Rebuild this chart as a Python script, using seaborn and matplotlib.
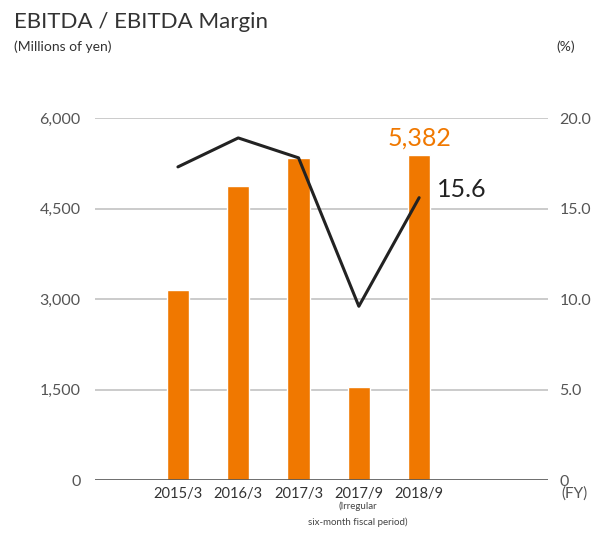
import numpy as np
import pandas as pd
import matplotlib
matplotlib.use('Agg')
import matplotlib.pyplot as plt
import seaborn as sns

# dane
periods = ['2015/3', '2016/3', '2017/3', '2017/9', '2018/9']
ebitda = [3150, 4870, 5330, 1540, 5382]
margin = [17.3, 18.9, 17.8, 9.6, 15.6]
left_ticks = [0, 1500, 3000, 4500, 6000]
left_labels = ['0', '1,500', '3,000', '4,500', '6,000']
right_labels = ['0', '5.0', '10.0', '15.0', '20.0']

sns.set_theme(style='white')
plt.rcParams['font.family'] = ['Lato', 'DejaVu Sans']

orange = '#f07800'
grey_txt = '#555555'

df = pd.DataFrame({'period': periods, 'ebitda': ebitda, 'margin': margin})

fig = plt.figure(figsize=(5.92, 5.34), dpi=100)
ax = fig.add_axes([0.160, 0.101, 0.766, 0.678])

sns.barplot(data=df, x='period', y='ebitda', color=orange, width=0.37,
            saturation=1, ax=ax, zorder=3)
ax.set_xlim(-1.38, 6.14)
ax.set_ylim(0, 6000)

for y in left_ticks[1:]:
    ax.axhline(y, color='#bdbdbd', lw=1.1, zorder=1)
ax.axhline(0, color='#555555', lw=1.2, zorder=4)

for s in ax.spines.values():
    s.set_visible(False)
ax.set_yticks(left_ticks)
ax.set_yticklabels(left_labels)
ax.tick_params(axis='y', length=0, pad=10, labelsize=11.5, labelcolor=grey_txt)
ax.tick_params(axis='x', length=0, pad=5, labelsize=10.5, labelcolor='#333333')
ax.set_xlabel('')
ax.set_ylabel('')

ax2 = ax.twinx()
sns.lineplot(x=np.arange(len(periods)), y=margin, color='#222222', lw=2.2,
             ax=ax2, zorder=5)
ax2.set_ylim(0, 20)
ax2.set_xlim(-1.38, 6.14)
for s in ax2.spines.values():
    s.set_visible(False)
ax2.set_yticks([0, 5, 10, 15, 20])
ax2.set_yticklabels(right_labels)
ax2.tick_params(axis='y', length=0, pad=8, labelsize=11.5, labelcolor=grey_txt)
ax2.set_ylabel('')
for l in ax2.lines:
    l.set_clip_on(False)

# etykiety wartości
ax.text(4, ebitda[-1] + 100, f'{ebitda[-1]:,}', color=orange, fontsize=18,
        ha='center', va='bottom')
ax2.text(4.3, margin[-1] - 0.2, f'{margin[-1]}', color='#222222', fontsize=18,
         ha='left', va='bottom')

fig.text(0.024, 0.958, 'EBITDA / EBITDA Margin', fontsize=16, color='#333333',
         va='center')
fig.text(0.024, 0.912, '(Millions of yen)', fontsize=10, color='#333333',
         va='center')
fig.text(0.972, 0.912, '(%)', fontsize=10, color='#333333', va='center',
         ha='right')
fig.text(0.993, 0.075, '(FY)', fontsize=11, color=grey_txt, va='center',
         ha='right')
fig.text(358 / 592, 1 - 506 / 534, '(Irregular', fontsize=7, color='#444444',
         ha='center', va='center')
fig.text(358 / 592, 1 - 522 / 534, 'six-month fiscal period)', fontsize=7,
         color='#444444', ha='center', va='center')

plt.savefig('out.png', dpi=100)
